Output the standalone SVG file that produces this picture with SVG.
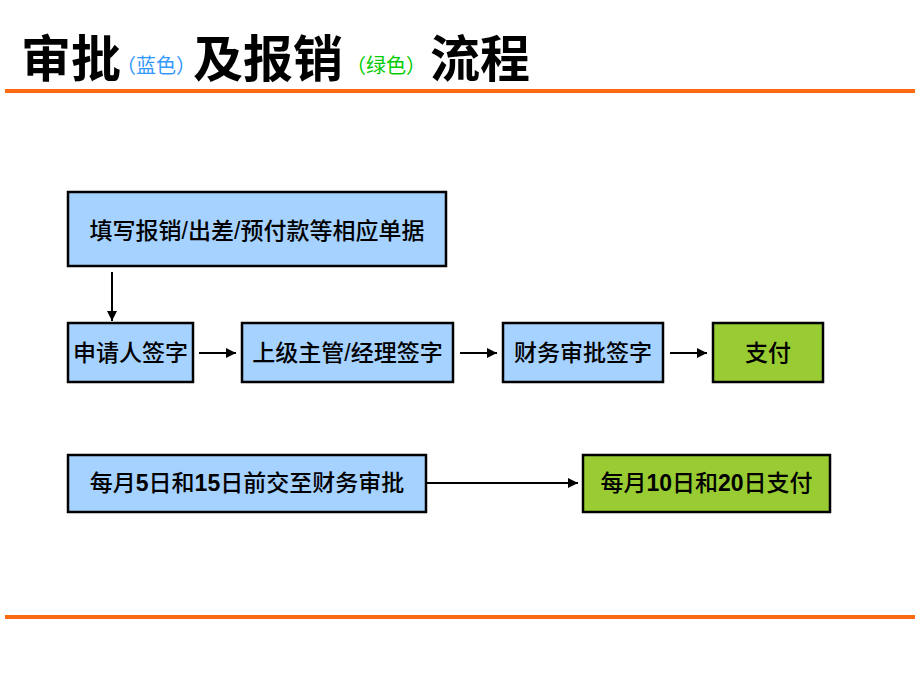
<svg xmlns="http://www.w3.org/2000/svg" width="920" height="690" viewBox="0 0 920 690">
<defs>
<marker id="ah" viewBox="0 0 10 10" refX="10" refY="5" markerWidth="5" markerHeight="5" orient="auto" markerUnits="strokeWidth">
<path d="M0,0 L10,5 L0,10 Z" fill="#000"/>
</marker>
<style>
.title{font-family:"Noto Sans CJK SC","Noto Sans CJK JP",sans-serif;font-size:50px;font-weight:700;fill:#000}
.note{font-family:"Noto Sans CJK SC",sans-serif;font-size:20px}
.box{stroke:#000;stroke-width:2.5}
.blue{fill:#A6D2FF}
.green{fill:#99CC33}
.lbl{font-family:"Liberation Sans","Noto Sans CJK SC",sans-serif;font-size:23px;font-weight:500;fill:#000;text-anchor:middle}
.b{font-weight:700}
.rule{stroke:#FF6A10;stroke-width:4}
.conn{stroke:#000;stroke-width:2;fill:none;marker-end:url(#ah)}
</style>
</defs>
<rect width="920" height="690" fill="#fff"/>
<g id="title">
<text class="title" x="21" y="77">审批</text>
<text class="note" x="116" y="73" fill="#3399FF">（蓝色）</text>
<text class="title" x="193" y="77">及报销</text>
<text class="note" x="346" y="73" fill="#00CC00">（绿色）</text>
<text class="title" x="430" y="77">流程</text>
</g>
<line class="rule" x1="5" y1="91" x2="915" y2="91"/>
<line class="rule" x1="5" y1="617" x2="915" y2="617"/>
<g id="connectors">
<line class="conn" x1="112" y1="272" x2="112" y2="321"/>
<line class="conn" x1="199" y1="353" x2="236" y2="353"/>
<line class="conn" x1="460" y1="353" x2="497" y2="353"/>
<line class="conn" x1="670" y1="353" x2="707" y2="353"/>
<line class="conn" x1="427" y1="483" x2="578" y2="483"/>
</g>
<g id="n1">
<rect class="box blue" x="68" y="192" width="378" height="74"/>
<text class="lbl" x="257" y="239">填写报销/出差/预付款等相应单据</text>
</g>
<g id="n2">
<rect class="box blue" x="68" y="323" width="125" height="59"/>
<text class="lbl" x="130.5" y="361">申请人签字</text>
</g>
<g id="n3">
<rect class="box blue" x="242" y="323" width="211" height="59"/>
<text class="lbl" x="347.5" y="361">上级主管/经理签字</text>
</g>
<g id="n4">
<rect class="box blue" x="503" y="323" width="160" height="59"/>
<text class="lbl" x="583" y="361">财务审批签字</text>
</g>
<g id="n5">
<rect class="box green" x="713" y="323" width="110" height="59"/>
<text class="lbl" x="768" y="361">支付</text>
</g>
<g id="n6">
<rect class="box blue" x="68" y="455" width="358" height="57"/>
<text class="lbl" x="247" y="491">每月<tspan class="b">5</tspan>日和<tspan class="b">15</tspan>日前交至财务审批</text>
</g>
<g id="n7">
<rect class="box green" x="583" y="455" width="247" height="57"/>
<text class="lbl" x="706.5" y="491">每月<tspan class="b">10</tspan>日和<tspan class="b">20</tspan>日支付</text>
</g>
</svg>
